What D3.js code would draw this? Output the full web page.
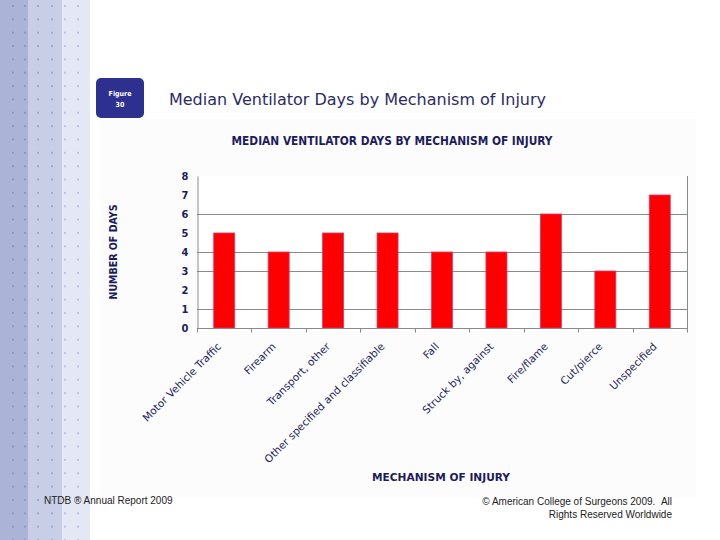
<!DOCTYPE html>
<html><head><meta charset="utf-8">
<script src="https://cdn.jsdelivr.net/npm/d3@7"></script>
<style>body{margin:0;background:#fff}svg{display:block}</style>
</head><body>
<svg id="c" width="720" height="540"></svg>
<script>
const categories = ["Motor Vehicle Traffic","Firearm","Transport, other","Other specified and classifiable","Fall","Struck by, against","Fire/flame","Cut/pierce","Unspecified"];
const medianDays = [5,4,5,5,4,4,6,3,7];
const yTicks = [0,1,2,3,4,5,6,7,8];
const gridValues = [1,3,4,6];

(function(){
const svg = d3.select("#c");
const navy = "#1c1c5c";

// left decorative strip
const strips = [{x:0,w:28,c:"#abb3d7"},{x:28,w:34,c:"#c7cee6"},{x:62,w:28,c:"#e4e7f4"}];
svg.selectAll("rect.strip").data(strips).join("rect")
  .attr("x",d=>d.x).attr("y",0).attr("width",d=>d.w).attr("height",540).attr("fill",d=>d.c);
const dotX = [13,25,38,52,65,78];
const dots = [];
for (let r=0; r<41; r++) for (const x of dotX) dots.push({x, y:6+r*13.35});
svg.selectAll("rect.dot").data(dots).join("rect")
  .attr("x",d=>d.x-1).attr("y",d=>d.y-1).attr("width",2).attr("height",2)
  .attr("fill",d=>d.x<28?"#9098c2":d.x<62?"#a3abd0":"#bfc5e0");

// figure badge
svg.append("rect").attr("x",96).attr("y",78).attr("width",48).attr("height",40).attr("rx",5).attr("fill","#2e3090");
svg.append("text").attr("x",120).attr("y",96).attr("text-anchor","middle").attr("fill","#fff")
  .attr("font-family","DejaVu Sans Condensed").attr("font-size",7).attr("font-weight","bold").text("Figure");
svg.append("text").attr("x",120).attr("y",107).attr("text-anchor","middle").attr("fill","#fff")
  .attr("font-family","DejaVu Sans Condensed").attr("font-size",7).attr("font-weight","bold").text("30");

// slide title
svg.append("text").attr("x",169).attr("y",105).attr("fill","#2b2b66")
  .attr("font-family","DejaVu Sans").attr("font-size",16).attr("textLength",377).attr("lengthAdjust","spacingAndGlyphs")
  .text("Median Ventilator Days by Mechanism of Injury");

// chart panel
svg.append("rect").attr("x",100).attr("y",119).attr("width",596).attr("height",379).attr("fill","#fcfcfc");

svg.append("text").attr("x",392).attr("y",145).attr("text-anchor","middle").attr("fill",navy)
  .attr("font-family","DejaVu Sans Condensed").attr("font-weight","bold").attr("font-size",11.5)
  .attr("textLength",321).attr("lengthAdjust","spacingAndGlyphs")
  .text("MEDIAN VENTILATOR DAYS BY MECHANISM OF INJURY");

const pL=197, pR=687, pT=176, pB=328;
const xb = d3.scaleBand().domain(categories).range([pL,pR]);
const y = d3.scaleLinear().domain([0,8]).range([pB,pT]);

const g = svg.append("g");
g.append("rect").attr("x",pL).attr("y",pT).attr("width",pR-pL).attr("height",pB-pT).attr("fill","#fff");
g.selectAll("line.grid").data(gridValues).join("line")
  .attr("x1",pL).attr("x2",pR).attr("y1",d=>Math.round(y(d))+0.5).attr("y2",d=>Math.round(y(d))+0.5)
  .attr("stroke","#8a8a8a").attr("stroke-width",1);
g.append("line").attr("x1",pR+0.5).attr("x2",pR+0.5).attr("y1",pT).attr("y2",pB).attr("stroke","#8a8a8a");

// bars
g.selectAll("rect.bar").data(categories).join("rect")
  .attr("x",(d)=>xb(d)+xb.bandwidth()/2-10.5).attr("width",21)
  .attr("y",(d,i)=>y(medianDays[i])).attr("height",(d,i)=>pB-y(medianDays[i]))
  .attr("fill","#ff0000").attr("stroke","#d63a6e").attr("stroke-width",0.8);

// y axis
const yAxis = d3.axisLeft(y).tickValues(yTicks).tickSize(0).tickPadding(9).tickFormat(d3.format("d"));
const ya = svg.append("g").attr("transform",`translate(${pL+0.5},0)`).call(yAxis);
ya.select(".domain").attr("stroke","#8a8a8a");
ya.selectAll("text").attr("fill",navy).attr("font-family","DejaVu Sans Condensed").attr("font-weight","bold").attr("font-size",11);

// x axis with ticks at boundaries
const xa = svg.append("g").attr("transform",`translate(0,${pB+0.5})`);
xa.append("line").attr("x1",pL).attr("x2",pR+1).attr("stroke","#8a8a8a");
const bounds = categories.map(c=>xb(c)).concat([pR]);
xa.selectAll("line.t").data(bounds).join("line")
  .attr("x1",d=>Math.round(d)+0.5).attr("x2",d=>Math.round(d)+0.5).attr("y1",0).attr("y2",4).attr("stroke","#8a8a8a");
xa.selectAll("text").data(categories).join("text")
  .attr("transform",d=>`translate(${xb(d)+xb.bandwidth()/2-6},${15}) rotate(-45)`)
  .attr("text-anchor","end").attr("dy","0.5em")
  .attr("fill",navy).attr("font-family","DejaVu Sans").attr("font-size",10.5)
  .text(d=>d);

// axis titles
svg.append("text").attr("transform","translate(117,252) rotate(-90)").attr("text-anchor","middle")
  .attr("fill",navy).attr("font-family","DejaVu Sans Condensed").attr("font-weight","bold").attr("font-size",11)
  .attr("textLength",95).attr("lengthAdjust","spacingAndGlyphs").text("NUMBER OF DAYS");
svg.append("text").attr("x",441).attr("y",481).attr("text-anchor","middle")
  .attr("fill",navy).attr("font-family","DejaVu Sans Condensed").attr("font-weight","bold").attr("font-size",11)
  .attr("textLength",138).attr("lengthAdjust","spacingAndGlyphs").text("MECHANISM OF INJURY");

// footer
svg.append("text").attr("x",44).attr("y",504).attr("fill","#222").attr("font-family","Liberation Sans").attr("font-size",10)
  .text("NTDB ® Annual Report 2009");
svg.append("text").attr("x",672).attr("y",505).attr("text-anchor","end").attr("fill","#222").attr("font-family","Liberation Sans").attr("font-size",10)
  .text("© American College of Surgeons 2009.\u00a0\u00a0All");
svg.append("text").attr("x",672).attr("y",518).attr("text-anchor","end").attr("fill","#222").attr("font-family","Liberation Sans").attr("font-size",10)
  .text("Rights Reserved Worldwide");
})();
</script>
</body></html>
